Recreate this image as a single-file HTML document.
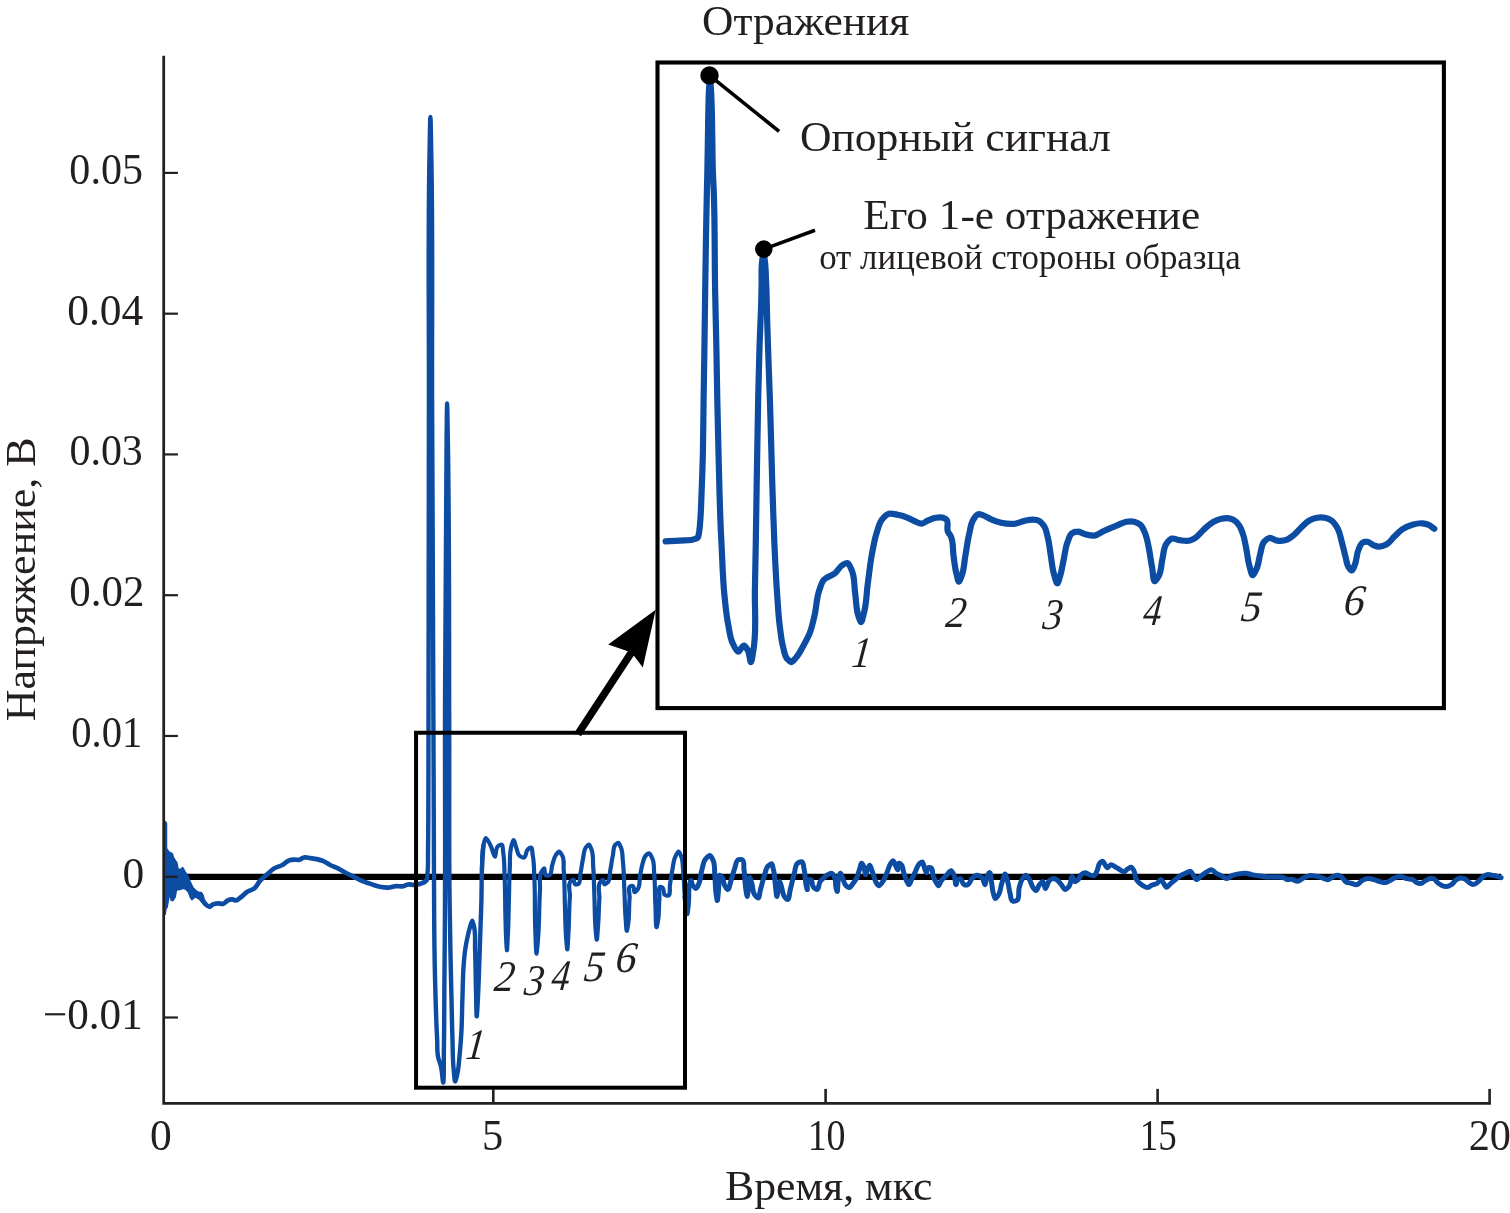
<!DOCTYPE html>
<html lang="ru"><head><meta charset="utf-8"><title>Отражения</title>
<style>
html,body{margin:0;padding:0;background:#fff;}
body{width:1510px;height:1213px;overflow:hidden;}
svg{display:block;}
text{font-family:"Liberation Serif","DejaVu Serif",serif;fill:#231f20;}
.it{font-style:italic;}
</style></head><body>
<svg width="1510" height="1213" viewBox="0 0 1510 1213">
<rect width="1510" height="1213" fill="#fff"/>

<line x1="165" y1="876.95" x2="1501.3" y2="876.95" stroke="#000" stroke-width="6.2"/>
<rect x="657.5" y="62.5" width="786.4" height="645.6" fill="#fff" stroke="#000" stroke-width="4.1"/>
<polygon points="165.2,876 165.2,821.4 166.5,823.1 166.5,848.5 168.9,852 172.3,853.7 173.5,857.7 176.9,862.9 178.1,869.3 181,869.3 182.7,867.6 185,871.6 187.9,876.2 189.6,880.8 193.1,887.8 196.6,891.2 198.9,892.5 201.2,892.4 203.5,898.2 203.5,904 198.9,898.8 194.8,896.5 192,899.8 190,896 188.5,892.4 186.2,889.5 183.3,888.3 179.8,889.5 176.4,890.1 175.2,897 172.9,900.5 171.2,900.5 170,892.4 168.3,900.5 167.1,907.4 166,908.5 165.2,914.3" fill="#0c4ca2" stroke="#0c4ca2" stroke-width="1.5" stroke-linejoin="round"/>
<g fill="none" stroke="#0c4ca2" stroke-linejoin="round" stroke-linecap="round">
<path d="M186.0,877.0C186.4,877.9 186.9,878.8 187.3,879.7C188.8,883.0 189.8,886.6 190.8,890.1C191.4,892.4 191.3,897.4 192.5,897.0C193.1,896.8 193.8,894.4 194.8,894.1C195.6,893.9 196.7,894.6 197.7,894.7C198.7,894.8 199.8,894.4 200.6,894.7C202.3,895.3 201.9,898.7 202.9,900.5C203.7,901.9 204.6,903.4 205.8,904.5C206.9,905.5 208.5,907.0 209.8,906.8C210.8,906.6 211.6,905.1 212.7,904.5C214.2,903.7 216.1,903.4 217.9,903.3C219.6,903.2 221.5,904.3 223.1,903.9C224.8,903.5 226.0,901.3 227.7,900.5C229.1,899.8 230.9,899.2 232.4,899.3C233.5,899.4 234.7,900.5 235.8,900.5C237.5,900.5 239.0,898.6 240.5,897.5C242.7,895.9 244.4,893.7 246.6,892.2C249.0,890.5 252.4,890.1 254.6,888.2C256.8,886.3 257.9,883.1 259.9,880.9C261.9,878.7 264.3,876.9 266.5,875.0C269.1,872.7 271.5,870.0 274.4,868.3C276.9,866.9 279.9,866.4 282.4,865.0C284.7,863.7 286.5,861.2 289.0,860.4C290.6,859.9 292.5,859.8 294.3,859.7C296.1,859.6 297.9,860.1 299.6,859.7C301.2,859.3 302.6,857.7 304.2,857.4C306.1,857.0 308.2,857.8 310.2,858.1C312.4,858.4 314.6,858.6 316.8,859.1C319.0,859.6 321.3,860.2 323.4,861.1C325.8,862.1 327.8,863.8 330.1,865.0C332.6,866.3 335.4,867.0 338.0,868.3C340.8,869.7 343.3,871.5 346.0,873.0C348.6,874.4 351.3,875.6 353.9,876.9C356.6,878.2 359.2,879.8 361.9,880.9C364.5,882.0 367.2,882.7 369.8,883.6C372.4,884.5 375.0,885.6 377.7,886.2C379.9,886.7 382.2,887.1 384.4,887.3C386.2,887.5 388.0,887.7 389.7,887.5C391.5,887.3 393.2,886.5 395.0,886.2C397.6,885.8 400.3,886.7 402.9,886.2C404.7,885.9 406.4,884.7 408.2,884.5C409.9,884.3 411.7,884.9 413.5,884.9C415.3,884.9 417.1,884.6 418.8,884.2C420.6,883.7 422.5,883.2 424.1,882.2C424.9,881.7 425.6,880.9 426.4,880.3" stroke-width="4.7"/>
<path d="M424.1,882.2C424.9,881.6 425.8,881.0 426.4,880.3C427.9,878.5 427.2,875.4 427.5,873.0C428.3,866.4 427.9,859.7 428.0,853.1C428.2,842.1 428.2,831.0 428.3,820.0C428.5,786.7 428.4,753.3 428.5,720.0C428.7,613.3 428.7,506.7 428.9,400.0C429.1,316.7 427.8,233.3 429.6,150.0C429.8,139.0 430.1,117.0 430.4,117.0C430.7,117.0 431.0,139.0 431.2,150.0C433.0,233.3 431.8,316.7 432.1,400.0C432.6,506.7 433.0,613.3 433.4,720.0C433.5,753.3 433.7,786.7 433.8,820.0C433.9,846.7 433.9,873.3 434.1,900.0C434.2,916.5 434.2,933.0 434.5,949.5C434.7,966.0 435.1,982.4 435.6,998.9C436.0,1012.7 436.4,1026.4 437.2,1040.2C437.5,1046.2 436.8,1052.5 438.4,1058.3C438.8,1059.7 439.3,1061.0 439.7,1062.4C440.1,1063.6 440.5,1064.8 440.8,1066.0C442.2,1071.2 442.5,1080.3 443.0,1082.2C444.1,1086.1 443.7,1059.7 443.9,1048.4C444.3,1026.4 444.2,1004.4 444.4,982.4C444.6,954.9 444.9,927.5 445.0,900.0C445.3,840.0 444.9,780.0 445.0,720.0C445.2,626.0 445.3,532.0 446.6,438.0C446.8,426.5 446.9,403.4 447.1,403.4C447.3,403.4 447.6,426.5 447.8,438.0C449.5,532.0 448.9,626.0 449.2,720.0C449.4,780.0 448.8,840.0 449.6,900.0C449.8,916.5 450.1,933.0 450.4,949.5C450.7,966.0 451.1,982.4 451.5,998.9C451.8,1012.7 452.0,1026.4 452.5,1040.2C452.8,1050.1 452.6,1060.0 453.7,1069.8C454.1,1073.7 454.5,1081.9 455.3,1081.4C455.9,1081.0 456.9,1075.9 457.5,1073.1C458.7,1067.7 458.9,1062.1 459.5,1056.6C460.3,1048.4 460.9,1040.1 461.4,1031.9C462.0,1020.9 462.0,1009.9 462.4,998.9C462.8,987.9 462.8,976.9 463.6,966.0C464.0,960.5 464.4,955.0 465.2,949.5C465.9,945.1 466.7,940.7 467.7,936.3C468.4,933.0 469.2,929.6 470.2,926.4C470.8,924.4 471.7,920.6 472.3,920.6C472.9,920.6 473.5,924.5 474.0,926.4C475.8,933.9 474.8,941.8 475.1,949.5C475.6,963.2 475.6,977.0 476.0,990.7C476.2,999.2 476.4,1017.8 476.8,1016.2C477.1,1015.1 477.6,1004.7 477.9,998.9C478.5,987.9 478.8,977.0 479.2,966.0C479.7,952.2 480.1,938.5 480.6,924.7C480.9,916.5 481.2,908.2 481.4,900.0C481.7,890.0 481.5,880.0 481.9,870.0C482.2,861.8 482.9,853.5 483.4,845.3" stroke-width="4.4"/>
<path d="M481.9,870.0C482.4,862.0 481.5,853.8 483.4,846.0C484.0,843.3 484.7,838.4 485.8,838.1C487.1,837.8 489.4,843.2 490.8,846.0C492.5,849.4 493.7,856.8 494.9,856.7C496.1,856.6 495.3,847.9 498.2,846.0C499.1,845.4 500.7,844.6 501.5,844.7C503.4,844.8 502.7,850.0 503.2,852.6C504.6,860.5 504.2,868.6 504.6,876.6C505.2,889.4 505.1,902.2 505.4,915.0C505.6,922.7 505.7,930.3 506.1,938.0C506.3,942.1 506.6,949.9 506.9,950.3C507.2,950.9 507.6,940.1 507.9,935.0C508.5,923.3 508.6,911.7 508.9,900.0C509.2,889.5 509.2,878.9 509.8,868.4C510.2,860.9 509.3,853.1 511.4,846.0C512.0,844.0 512.8,840.5 513.5,840.2C514.4,839.9 515.3,845.2 516.3,847.7C517.4,850.4 517.4,854.2 519.6,855.9C520.7,856.7 522.6,857.7 523.8,857.6C526.2,857.5 525.6,851.2 527.9,849.3C528.7,848.7 530.0,847.8 530.7,847.7C532.7,847.4 532.2,853.1 532.8,855.9C534.2,862.7 533.9,869.7 534.3,876.6C535.3,894.4 534.5,912.2 535.3,930.0C535.6,937.9 536.0,954.5 536.6,953.6C537.1,952.9 537.8,941.2 538.3,935.0C539.4,920.0 539.0,905.0 540.0,890.0C540.4,884.0 538.5,877.1 541.4,872.0C542.1,870.8 543.2,868.7 543.9,868.5C545.1,868.1 544.1,874.9 546.1,875.5C546.8,875.7 548.0,875.7 548.8,875.5C552.0,874.8 551.1,868.5 552.3,865.0C553.4,861.7 553.8,857.9 555.8,855.1C556.7,853.8 558.0,851.6 559.0,851.6C560.0,851.6 561.2,853.8 562.0,855.1C564.7,859.2 563.3,865.2 563.7,870.2C564.7,881.9 564.5,893.7 564.9,905.4C565.3,917.1 565.3,928.8 566.3,940.5C566.6,943.4 566.9,948.3 567.2,949.3C567.7,951.2 568.1,937.6 568.5,931.7C569.2,920.0 569.0,908.3 569.9,896.6C570.3,891.3 567.0,883.3 571.3,880.8C571.9,880.4 572.8,879.9 573.4,879.9C574.6,880.0 573.9,883.8 575.1,884.3C575.8,884.6 577.0,884.5 577.8,884.3C580.9,883.6 579.6,877.3 580.4,873.8C581.5,868.8 581.9,863.7 583.0,858.7C583.9,854.8 583.6,850.2 586.0,847.2C586.8,846.2 588.0,844.6 588.8,844.6C589.9,844.6 590.6,847.5 591.3,849.0C593.7,854.3 592.7,860.8 593.2,866.7C594.0,876.6 594.0,886.6 594.4,896.6C594.9,908.3 594.6,920.1 595.8,931.7C596.1,934.3 596.4,938.9 596.7,939.6C597.2,940.7 597.6,930.8 598.0,926.4C598.8,917.1 598.8,907.7 599.4,898.3C599.8,892.8 596.8,885.4 600.6,881.7C601.3,881.0 602.3,879.9 602.9,879.9C603.9,879.9 603.6,884.1 604.6,884.3C605.4,884.4 606.8,883.2 607.6,882.5C610.6,879.9 609.5,874.3 610.3,870.2C611.3,865.2 611.8,860.1 612.9,855.1C613.7,851.6 613.0,846.9 615.5,844.6C616.3,843.9 617.4,842.8 618.2,842.8C619.4,842.8 620.1,845.7 620.8,847.2C622.8,851.5 622.4,856.7 622.9,861.5C623.9,870.2 623.9,879.0 624.3,887.8C624.8,898.3 624.8,908.9 625.7,919.4C626.0,923.2 626.3,931.4 626.9,930.8C627.3,930.3 627.9,925.5 628.3,922.9C629.5,914.8 628.8,906.5 629.6,898.3C630.0,894.2 627.3,886.5 631.0,886.0C631.5,885.9 632.2,885.9 632.7,886.0C634.6,886.4 633.5,892.4 634.8,892.2C635.5,892.1 636.7,890.5 637.5,889.6C640.4,886.0 639.2,880.2 640.1,875.5C640.9,871.4 641.5,867.2 642.7,863.2C643.5,860.8 643.8,857.8 645.4,856.0C646.3,855.0 647.9,853.4 648.9,853.4C650.4,853.4 651.5,856.8 652.4,858.7C654.5,863.2 653.7,868.8 654.2,873.8C655.2,884.3 654.8,894.9 655.4,905.4C655.8,912.5 655.7,930.1 656.8,926.8C657.2,925.6 657.8,921.9 658.2,919.4C659.3,912.4 658.7,905.3 659.4,898.3C659.8,894.5 657.8,886.0 660.8,886.9C661.3,887.1 662.1,887.4 662.6,887.8C664.5,889.2 662.9,893.6 664.7,894.8C665.5,895.3 667.0,895.7 667.9,895.7C670.9,895.7 669.3,888.1 670.0,884.3C670.9,879.0 671.6,873.7 672.6,868.5C673.4,864.6 673.5,860.4 675.2,856.9C676.1,855.0 677.6,851.5 678.7,851.6C679.7,851.7 680.7,855.1 681.4,856.9C683.0,861.0 682.6,865.8 683.1,870.2C684.0,879.0 684.0,887.8 684.9,896.6C685.5,902.3 686.5,914.5 687.2,913.8C687.7,913.3 688.1,904.6 688.6,900.0" stroke-width="4.2"/>
<path d="M684.9,896.6C685.7,902.3 686.5,914.5 687.2,913.8C687.7,913.3 688.2,904.6 688.6,900.0C689.0,894.7 688.1,889.1 689.6,884.0C689.9,882.8 690.4,880.7 690.8,880.5C691.4,880.1 691.8,884.1 692.9,885.6C693.7,886.7 695.0,888.4 695.9,888.5C697.1,888.6 698.1,885.3 698.9,883.6C701.0,879.4 700.6,874.2 701.9,869.7C703.0,866.0 703.3,861.5 705.8,858.7C706.9,857.4 708.6,855.2 709.8,855.4C711.0,855.6 712.0,858.2 712.8,859.7C715.3,864.3 714.3,870.3 714.8,875.6C715.3,880.9 715.2,886.2 715.8,891.5C716.2,894.5 716.8,900.0 717.2,900.5C717.8,901.2 718.2,891.9 718.7,887.6C719.2,883.6 717.9,874.0 720.3,875.6C720.9,876.0 721.7,876.9 722.3,877.6C724.0,879.7 723.3,883.2 724.7,885.6C725.5,887.0 726.9,889.2 727.7,889.5C729.2,889.9 729.8,884.3 730.7,881.6C732.2,877.4 733.0,872.9 734.6,868.7C735.8,865.6 735.8,860.5 738.6,859.7C739.6,859.4 741.1,859.4 742.0,859.7C744.7,860.5 743.5,866.3 744.0,869.7C744.9,875.6 744.7,881.7 745.6,887.6C746.0,890.6 746.7,896.5 747.2,896.5C747.7,896.5 748.1,890.6 748.5,887.6C749.0,884.3 749.1,876.9 749.9,877.6C750.4,878.0 751.3,881.6 751.9,883.6C753.0,887.2 752.4,891.6 754.5,894.5C755.4,895.8 757.0,897.7 757.9,897.9C759.5,898.3 759.7,892.3 760.5,889.5C761.9,884.9 762.8,880.1 764.4,875.6C765.6,872.2 765.8,868.0 768.4,865.7C769.3,864.9 770.6,863.7 771.4,863.7C772.8,863.7 772.8,867.7 773.4,869.7C774.8,874.8 774.7,880.3 775.4,885.6C775.9,889.2 776.4,896.9 777.0,896.5C777.5,896.2 777.8,890.5 778.4,887.6C778.8,885.6 779.2,881.7 779.7,881.6C780.3,881.5 781.1,885.6 781.7,887.6C782.6,890.5 782.5,894.1 784.3,896.5C785.1,897.6 786.5,899.2 787.3,899.5C789.3,900.3 789.4,892.9 790.3,889.5C791.8,884.2 792.6,878.8 794.2,873.6C795.4,869.9 795.0,864.4 798.2,862.7C799.2,862.2 800.7,861.6 801.6,861.7C803.7,861.9 803.5,867.0 804.2,869.7C805.3,874.2 804.9,879.0 805.8,883.6C806.2,885.6 806.8,889.0 807.2,889.5C807.9,890.3 805.9,880.1 808.8,879.6C809.3,879.5 810.2,879.5 810.7,879.6C812.8,880.1 811.6,884.8 813.1,886.6C814.1,887.8 816.0,889.5 817.1,889.5C818.9,889.6 818.5,883.9 820.1,881.6C821.1,880.1 822.6,878.8 824.0,877.6C825.3,876.5 826.5,875.3 828.0,874.6C829.2,874.0 830.9,873.0 832.0,873.3C833.3,873.7 833.9,876.1 834.6,877.6C835.9,880.6 835.2,884.3 836.0,887.6C836.3,888.8 836.7,890.5 837.0,891.1C837.9,893.0 837.5,883.3 838.4,879.6C838.9,877.5 839.7,873.2 840.5,873.3C841.2,873.4 842.1,876.8 842.9,878.6C843.9,880.9 844.1,883.9 845.9,885.6C846.7,886.4 848.0,887.5 848.9,887.6C850.4,887.7 851.7,885.0 852.9,883.6C854.4,881.8 855.8,879.7 856.8,877.6C858.0,875.1 858.5,872.3 859.4,869.7C860.2,867.6 860.8,862.8 861.8,863.3C862.4,863.6 863.2,865.5 863.8,866.7C864.9,869.1 865.0,875.2 865.8,874.6C866.3,874.2 866.7,871.3 867.4,869.7C868.0,868.2 869.0,865.3 869.7,865.3C870.4,865.3 871.1,868.2 871.7,869.7C872.7,872.3 873.3,875.0 874.3,877.6C875.0,879.6 875.4,881.9 876.7,883.6C877.3,884.3 878.0,885.4 878.7,885.6C880.0,886.0 881.6,883.1 882.7,881.6C884.5,879.3 885.4,876.3 886.6,873.6C888.1,870.4 888.6,866.6 890.6,863.7C891.3,862.7 892.3,860.8 893.0,860.7C894.0,860.5 894.7,864.0 895.6,865.7C896.3,867.0 897.1,869.5 897.6,869.7C898.4,870.0 897.7,863.1 899.2,863.3C899.8,863.4 900.9,864.1 901.5,864.7C903.2,866.3 902.8,869.4 903.5,871.7C904.4,874.7 905.1,877.8 906.5,880.6C907.2,882.0 908.1,884.5 908.9,884.6C909.8,884.7 910.6,881.3 911.5,879.6C912.8,877.0 914.1,874.3 915.4,871.7C916.7,869.0 917.2,865.5 919.4,863.7C920.2,863.1 921.3,862.1 922.0,862.1C923.4,862.0 923.6,865.8 924.4,867.7C925.1,869.4 925.7,872.7 926.4,872.7C927.1,872.7 926.9,868.2 928.4,867.7C929.0,867.5 930.0,867.6 930.7,867.7C933.3,868.3 932.1,873.8 933.3,876.6C934.1,878.7 935.1,880.7 936.3,882.6C936.9,883.6 937.7,885.4 938.3,885.6C939.3,886.0 940.1,882.1 941.3,880.6C942.7,878.8 944.6,877.2 946.2,875.6C947.9,874.0 949.8,870.2 951.2,870.7C952.2,871.0 953.1,873.2 953.8,874.6C955.4,877.6 955.2,885.6 956.2,884.6C956.7,884.1 956.5,880.6 957.8,879.6C958.4,879.1 959.4,878.7 960.1,878.6C962.1,878.4 962.0,883.9 964.0,884.6C965.1,885.0 966.8,885.0 967.9,884.6C969.9,883.9 970.2,880.2 971.9,878.6C973.3,877.2 975.2,875.3 976.9,875.2C978.5,875.1 980.6,876.4 981.9,877.6C983.6,879.2 984.0,884.4 984.8,884.6C985.8,884.9 985.9,878.3 987.4,875.6C988.0,874.6 988.8,873.1 989.4,872.7C990.8,871.7 990.8,878.6 991.4,881.6C992.2,885.5 992.2,889.7 993.4,893.5C994.0,895.2 994.5,898.4 995.4,898.5C996.3,898.6 997.8,895.9 998.7,894.5C1000.7,891.4 1000.5,887.2 1001.7,883.6C1002.8,880.4 1004.2,873.6 1005.3,874.0C1006.2,874.3 1007.0,879.0 1007.7,881.6C1008.8,885.5 1009.0,889.6 1010.1,893.5C1010.8,896.1 1010.6,900.5 1012.7,901.1C1013.7,901.4 1015.5,901.0 1016.6,900.5C1020.1,899.0 1017.9,891.8 1019.2,887.6C1020.1,884.5 1020.8,881.2 1022.6,878.6C1023.5,877.4 1024.6,875.3 1025.6,875.2C1026.9,875.0 1028.4,878.0 1029.5,879.6C1031.1,882.0 1031.3,885.3 1033.1,887.6C1033.9,888.6 1035.1,890.3 1035.9,890.5C1037.4,890.8 1038.0,886.4 1039.5,884.6C1040.4,883.5 1041.7,881.8 1042.5,881.6C1044.0,881.3 1044.4,888.3 1045.4,888.5C1046.6,888.8 1047.3,882.5 1049.4,880.6C1050.3,879.8 1051.3,878.8 1052.4,878.6C1053.6,878.3 1055.2,879.0 1056.4,879.6C1058.4,880.6 1059.7,882.9 1061.3,884.6C1062.7,886.2 1063.8,889.6 1065.3,889.5C1066.4,889.4 1067.9,887.7 1068.9,886.6C1071.2,884.0 1070.8,875.8 1072.3,876.6C1073.1,877.0 1073.8,881.6 1075.2,881.6C1076.0,881.6 1077.3,880.4 1078.2,879.6C1079.6,878.3 1079.8,875.8 1081.2,874.6C1082.3,873.7 1083.9,872.7 1085.2,872.7C1086.5,872.7 1087.7,874.1 1089.1,874.6C1090.7,875.2 1092.8,876.1 1094.1,875.6C1095.6,875.0 1096.2,872.4 1097.1,870.7C1098.4,868.2 1098.0,864.4 1100.1,862.7C1100.8,862.1 1102.0,861.2 1102.7,861.3C1103.7,861.4 1104.2,863.6 1105.0,864.7C1105.8,865.7 1106.5,867.5 1107.4,867.7C1108.5,867.9 1109.7,864.8 1111.0,864.7C1112.2,864.6 1113.7,866.0 1115.0,866.7C1116.7,867.6 1118.2,868.8 1119.9,869.7C1121.2,870.4 1122.6,871.8 1123.9,871.7C1125.3,871.6 1126.4,869.5 1127.9,868.7C1129.0,868.1 1130.3,867.1 1131.3,867.3C1132.4,867.5 1133.2,869.5 1133.9,870.7C1135.2,873.0 1134.6,876.3 1135.8,878.6C1136.6,880.0 1137.6,881.4 1138.8,882.6C1140.0,883.8 1141.4,884.8 1142.8,885.6C1144.3,886.5 1146.2,887.8 1147.8,887.6C1149.2,887.4 1150.3,885.8 1151.7,885.2C1153.3,884.5 1155.2,884.4 1156.7,883.6C1158.4,882.7 1159.8,879.3 1161.1,879.6C1162.1,879.9 1162.8,882.3 1163.7,883.6C1164.6,884.8 1165.6,887.0 1166.6,887.2C1167.8,887.4 1169.2,884.8 1170.6,883.6C1172.2,882.2 1173.9,880.9 1175.6,879.6C1177.2,878.3 1178.7,876.7 1180.5,875.6C1182.1,874.7 1183.8,874.0 1185.5,873.3C1187.1,872.6 1189.2,870.9 1190.5,871.3C1191.8,871.7 1192.5,874.2 1193.5,875.6C1194.5,876.9 1195.3,879.4 1196.4,879.6C1197.6,879.8 1199.1,877.6 1200.4,876.6C1202.4,875.1 1204.3,873.4 1206.4,872.1C1208.0,871.2 1209.8,869.6 1211.3,869.7C1213.0,869.8 1214.3,872.2 1216.0,873.2C1217.9,874.3 1220.0,875.0 1221.9,876.0C1223.6,876.8 1225.3,878.6 1226.9,878.6C1228.6,878.6 1230.1,876.4 1231.9,875.6C1234.4,874.5 1237.1,874.0 1239.8,873.6C1241.8,873.3 1243.8,873.0 1245.8,873.2C1247.8,873.4 1249.7,874.2 1251.7,874.6C1253.7,875.0 1255.7,875.3 1257.7,875.6C1261.0,876.1 1264.3,876.8 1267.6,877.0C1270.9,877.2 1274.3,876.8 1277.6,877.0C1279.6,877.1 1281.6,877.0 1283.5,877.6C1284.9,878.0 1286.1,879.4 1287.5,879.6C1288.8,879.8 1290.2,879.1 1291.5,879.2C1293.5,879.3 1295.5,881.3 1297.4,881.2C1299.5,881.1 1301.3,879.0 1303.4,878.0C1305.3,877.1 1307.3,875.9 1309.3,875.6C1311.2,875.3 1313.3,875.7 1315.3,876.0C1317.3,876.3 1319.3,877.0 1321.3,877.6C1323.6,878.2 1326.0,880.0 1328.2,879.6C1330.0,879.3 1331.4,877.3 1333.2,876.6C1334.8,875.9 1336.6,874.9 1338.2,875.2C1339.6,875.4 1340.9,876.7 1342.1,877.6C1343.6,878.8 1344.4,881.1 1346.1,882.0C1347.5,882.8 1349.4,882.8 1351.1,883.2C1353.1,883.7 1355.2,885.0 1357.0,884.6C1358.9,884.2 1360.2,881.6 1362.0,880.6C1363.8,879.6 1366.0,878.7 1368.0,878.6C1369.9,878.5 1372.0,879.1 1373.9,879.6C1375.9,880.1 1377.9,881.1 1379.9,881.6C1381.8,882.1 1383.9,882.8 1385.8,882.6C1387.9,882.3 1389.8,880.6 1391.8,879.6C1393.8,878.6 1395.7,877.0 1397.8,876.6C1399.0,876.4 1400.4,876.4 1401.7,876.6C1403.4,876.9 1405.0,878.1 1406.7,878.6C1408.6,879.2 1410.9,878.8 1412.7,879.6C1414.1,880.3 1415.1,881.9 1416.6,882.6C1417.8,883.2 1419.3,883.7 1420.6,883.6C1422.4,883.5 1423.9,881.5 1425.6,880.6C1427.2,879.8 1428.8,878.8 1430.5,878.6C1431.5,878.5 1432.6,878.4 1433.5,878.6C1435.2,879.1 1436.0,881.4 1437.5,882.6C1438.7,883.6 1440.1,884.5 1441.5,885.2C1443.0,885.9 1444.8,886.7 1446.4,886.6C1448.1,886.5 1449.9,885.5 1451.4,884.6C1453.4,883.4 1454.4,880.8 1456.4,879.6C1457.6,878.9 1459.0,878.2 1460.3,878.0C1461.6,877.9 1463.1,878.2 1464.3,878.6C1466.2,879.3 1467.5,881.5 1469.3,882.6C1470.6,883.4 1472.0,884.6 1473.3,884.6C1475.0,884.6 1476.7,882.8 1478.2,881.6C1480.1,880.2 1481.3,877.9 1483.2,876.6C1484.4,875.8 1485.8,874.9 1487.2,874.6C1488.7,874.3 1490.5,874.9 1492.1,875.2C1494.1,875.5 1496.1,876.0 1498.1,876.6C1499.1,876.9 1500.1,877.3 1501.1,877.6" stroke-width="5.0"/>
</g>
<rect x="416.05" y="732.75" width="268.95" height="354.95" fill="none" stroke="#000" stroke-width="4"/>
<path d="M665.6,541.3C670.4,541.1 675.2,541.0 680.0,540.6C685.2,540.2 690.9,541.0 695.6,538.8C696.3,538.4 697.3,538.2 697.8,537.6C698.6,536.8 698.5,535.2 698.8,534.0C699.0,533.0 699.1,532.0 699.3,531.0C699.9,527.0 700.1,522.9 700.4,518.8C701.1,510.0 701.2,501.2 701.6,492.4C702.1,479.2 702.6,466.0 702.9,452.8C703.3,435.2 703.3,417.6 703.6,400.0C703.8,383.0 704.2,366.0 704.4,349.0C704.7,329.3 704.9,309.7 705.2,290.0C705.7,256.7 706.1,223.3 706.9,190.0C707.1,183.0 707.3,176.0 707.4,169.0C707.6,159.0 707.7,149.0 707.9,139.0C708.1,129.3 708.1,119.7 708.4,110.0C708.6,101.7 708.6,93.3 709.3,85.0C709.5,82.8 709.7,78.5 709.9,78.5C710.1,78.5 710.4,82.8 710.6,85.0C711.4,93.3 711.5,101.7 711.8,110.0C712.1,119.7 712.1,129.3 712.3,139.0C712.5,149.0 712.5,159.0 712.8,169.0C713.0,176.0 713.4,183.0 713.7,190.0C715.0,223.3 714.5,256.7 715.1,290.0C715.5,309.7 716.0,329.3 716.4,349.0C716.7,366.0 717.0,383.0 717.3,400.0C717.7,417.6 718.1,435.2 718.5,452.8C718.8,466.0 719.1,479.2 719.5,492.4C719.9,505.6 720.3,518.8 720.9,532.0C721.1,535.9 721.3,539.7 721.5,543.6C722.4,561.4 722.7,579.2 724.6,596.9C725.6,606.3 726.4,615.8 728.3,625.1C729.6,631.4 730.0,638.3 733.0,643.9C734.4,646.6 736.3,651.7 738.3,651.7C740.0,651.7 742.2,645.1 744.0,645.5C745.3,645.8 746.7,648.4 747.7,650.1C749.8,653.6 749.9,662.2 750.9,662.1C751.8,662.0 752.7,654.1 753.4,650.1C756.8,630.6 754.5,610.4 754.9,590.6C755.6,559.3 756.0,527.9 756.5,496.6C757.0,465.3 757.4,434.0 758.1,402.7C758.5,386.8 758.8,370.9 759.3,355.0C759.5,348.0 759.7,341.0 760.0,334.0C760.3,325.7 760.7,317.3 761.0,309.0C761.3,300.8 761.4,292.7 761.6,284.5C761.8,276.3 761.0,268.0 762.3,260.0C762.7,257.8 763.2,253.5 763.6,253.5C764.0,253.5 764.4,257.8 764.7,260.0C765.9,268.1 765.8,276.3 766.2,284.5C766.6,292.7 766.7,300.8 766.9,309.0C767.1,317.3 767.3,325.7 767.6,334.0C767.8,341.0 768.1,348.0 768.3,355.0C768.8,370.9 769.5,386.8 770.0,402.7C770.9,428.8 771.4,454.9 772.2,481.0C772.9,501.9 773.5,522.7 774.4,543.6C775.1,559.3 775.8,575.0 776.9,590.6C777.8,603.1 778.3,615.7 780.0,628.2C780.9,634.5 781.4,640.9 783.1,647.0C784.2,651.0 784.5,655.8 787.2,658.9C788.3,660.1 789.7,662.0 791.0,662.1C792.6,662.2 794.3,659.5 795.7,658.0C799.1,654.5 801.1,649.8 803.5,645.5C805.8,641.4 808.1,637.2 809.8,632.9C812.0,627.4 813.1,621.5 814.5,615.7C816.5,607.4 816.4,598.6 819.2,590.6C820.5,586.9 821.4,582.5 823.9,579.7C826.5,576.7 831.6,576.0 834.8,573.4C837.8,571.0 839.4,566.7 842.7,564.9C844.1,564.1 846.1,562.8 847.4,563.1C849.1,563.4 850.0,566.8 851.1,568.7C855.1,576.0 853.9,585.4 855.2,593.8C856.3,601.1 856.0,608.7 858.3,615.7C859.0,617.8 860.0,621.6 860.8,622.0C862.0,622.6 863.1,615.8 864.0,612.6C866.6,603.5 866.4,593.8 867.7,584.4C869.2,573.4 870.2,562.4 872.4,551.5C873.7,544.9 874.8,538.1 877.0,531.7C878.4,527.6 879.3,523.0 881.9,519.7C883.7,517.4 886.2,514.6 888.9,513.8C891.5,513.0 894.9,514.2 897.8,514.8C901.2,515.5 904.6,516.5 907.8,517.8C910.5,518.9 913.0,520.6 915.7,521.7C917.5,522.5 919.5,523.7 921.3,523.7C923.4,523.7 925.5,521.6 927.6,520.7C930.2,519.6 932.8,518.3 935.6,517.8C938.2,517.4 941.1,516.8 943.5,517.8C944.6,518.2 945.7,518.9 946.5,519.7C949.2,522.3 946.2,528.2 947.9,531.7C948.6,533.1 949.8,534.3 950.5,535.6C953.7,541.4 952.5,548.9 953.5,555.5C954.4,561.5 954.8,567.6 956.4,573.4C957.1,576.2 958.0,581.9 959.0,581.6C959.8,581.4 961.0,577.5 961.8,575.4C964.2,569.1 964.2,562.1 965.4,555.5C966.7,548.2 967.5,540.8 969.3,533.6C970.4,528.9 970.7,523.6 973.3,519.7C974.6,517.7 976.2,514.6 978.3,514.2C979.8,513.9 981.7,514.9 983.3,515.4C986.1,516.3 988.5,518.2 991.2,519.3C994.4,520.7 997.7,521.9 1001.1,522.7C1005.6,523.7 1010.5,524.3 1015.0,523.7C1018.4,523.2 1021.6,521.4 1025.0,520.7C1027.6,520.2 1030.3,519.6 1032.9,519.7C1034.9,519.8 1037.2,519.9 1038.9,520.7C1040.9,521.7 1042.6,523.8 1043.9,525.7C1046.3,529.0 1046.7,533.6 1047.8,537.6C1049.3,543.4 1049.8,549.5 1050.8,555.5C1051.8,561.5 1052.1,567.6 1053.8,573.4C1054.8,576.8 1056.4,584.2 1057.6,583.3C1058.3,582.8 1059.1,579.4 1059.7,577.4C1061.6,571.6 1062.4,565.5 1063.7,559.5C1065.0,553.5 1065.4,547.2 1067.7,541.6C1068.8,538.9 1069.5,535.2 1071.7,533.6C1073.2,532.5 1075.6,531.7 1077.6,531.7C1079.9,531.6 1082.2,533.4 1084.6,534.0C1087.8,534.8 1091.3,536.0 1094.5,535.6C1098.0,535.1 1101.1,532.2 1104.4,530.7C1108.3,528.9 1112.4,527.3 1116.4,525.7C1119.7,524.4 1122.9,522.3 1126.3,521.7C1128.9,521.3 1131.7,521.1 1134.2,521.7C1136.3,522.2 1138.6,523.3 1140.2,524.7C1142.7,526.8 1143.9,530.5 1145.2,533.6C1147.3,538.6 1148.0,544.2 1149.1,549.5C1150.3,555.4 1150.9,561.5 1152.1,567.4C1153.0,572.0 1152.9,582.3 1155.1,581.0C1156.0,580.5 1157.5,578.0 1158.5,576.4C1161.6,571.2 1161.0,564.4 1162.5,558.5C1163.7,553.5 1163.5,547.6 1166.5,543.6C1167.9,541.7 1169.8,539.2 1171.9,538.6C1174.2,537.9 1177.1,539.9 1179.8,540.2C1183.1,540.6 1186.6,541.4 1189.7,540.6C1191.8,540.0 1193.9,538.8 1195.7,537.6C1198.8,535.6 1200.8,532.2 1203.6,529.7C1206.8,526.8 1209.9,523.7 1213.6,521.7C1216.1,520.4 1218.8,519.3 1221.5,518.7C1223.4,518.3 1225.5,517.9 1227.5,518.1C1229.5,518.3 1231.7,518.8 1233.4,519.7C1235.8,521.0 1237.8,523.4 1239.4,525.7C1241.4,528.6 1242.3,532.2 1243.4,535.6C1244.8,540.1 1245.5,544.9 1246.4,549.5C1247.5,554.8 1247.8,560.3 1249.3,565.4C1250.3,568.7 1251.4,575.6 1252.9,575.1C1253.9,574.8 1255.3,571.4 1256.3,569.4C1258.7,564.5 1258.8,558.7 1260.3,553.5C1261.5,549.5 1261.5,544.5 1264.2,541.6C1265.5,540.2 1267.4,538.4 1269.2,538.0C1271.6,537.4 1274.5,540.3 1277.2,540.6C1280.4,541.0 1284.1,540.8 1287.1,539.6C1289.3,538.7 1291.2,537.1 1293.1,535.6C1296.0,533.3 1298.3,530.2 1301.0,527.7C1303.6,525.3 1305.9,522.4 1308.9,520.7C1311.3,519.3 1314.1,518.3 1316.9,517.8C1319.5,517.4 1322.3,517.3 1324.8,517.8C1327.2,518.3 1329.8,519.3 1331.8,520.7C1334.4,522.6 1336.2,525.8 1337.8,528.7C1339.9,532.6 1340.5,537.3 1341.7,541.6C1343.2,546.9 1344.2,552.2 1345.7,557.5C1346.6,560.8 1346.7,564.7 1348.7,567.4C1349.5,568.5 1350.8,570.4 1351.7,570.5C1352.9,570.6 1353.8,567.2 1354.6,565.4C1356.9,560.5 1356.3,554.4 1358.6,549.5C1359.7,547.1 1360.4,543.8 1362.6,542.6C1363.7,542.0 1365.3,541.6 1366.6,541.6C1369.4,541.5 1371.7,544.7 1374.5,545.6C1375.8,546.0 1377.2,546.5 1378.5,546.6C1381.1,546.8 1384.1,545.8 1386.4,544.6C1389.6,542.9 1391.7,539.2 1394.4,536.6C1397.0,534.1 1399.4,531.3 1402.3,529.3C1405.3,527.3 1408.8,525.7 1412.3,524.7C1415.5,523.8 1418.9,523.0 1422.2,523.3C1424.2,523.5 1426.3,523.9 1428.2,524.7C1430.4,525.6 1432.3,527.4 1434.3,528.8" fill="none" stroke="#0c4ca2" stroke-width="6.2" stroke-linejoin="round" stroke-linecap="round"/>
<g stroke="#231f20" fill="none">
<path d="M163.7,55.7 V1103.4 H1490.9" stroke-width="2.75"/>
<line x1="163.7" y1="172.9" x2="177.9" y2="172.9" stroke-width="2.2"/>
<line x1="163.7" y1="313.67" x2="177.9" y2="313.67" stroke-width="2.2"/>
<line x1="163.7" y1="454.43" x2="177.9" y2="454.43" stroke-width="2.2"/>
<line x1="163.7" y1="595.2" x2="177.9" y2="595.2" stroke-width="2.2"/>
<line x1="163.7" y1="735.97" x2="177.9" y2="735.97" stroke-width="2.2"/>
<line x1="163.7" y1="876.73" x2="177.9" y2="876.73" stroke-width="2.2"/>
<line x1="163.7" y1="1017.5" x2="177.9" y2="1017.5" stroke-width="2.2"/>
<line x1="493.3" y1="1103.4" x2="493.3" y2="1088.9" stroke-width="2.6"/>
<line x1="825.6" y1="1103.4" x2="825.6" y2="1088.9" stroke-width="2.6"/>
<line x1="1157.6" y1="1103.4" x2="1157.6" y2="1088.9" stroke-width="2.6"/>
<line x1="1489.6" y1="1103.4" x2="1489.6" y2="1088.9" stroke-width="2.6"/>
</g>
<line x1="577.8" y1="734.2" x2="632.2" y2="651.2" stroke="#000" stroke-width="7.5"/>
<polygon points="655.7,609.8 608.2,644.6 631.5,652.5 642.8,667.4" fill="#000"/>
<line x1="709.5" y1="75.4" x2="779.1" y2="131.4" stroke="#000" stroke-width="3.6"/>
<circle cx="709.5" cy="75.4" r="9.2" fill="#000"/>
<line x1="763.8" y1="249.1" x2="815.0" y2="230.2" stroke="#000" stroke-width="3.6"/>
<circle cx="763.8" cy="249.1" r="8.8" fill="#000"/>
<text id="y0.05" x="69.37" y="183.9" font-size="43.7" textLength="73.61" lengthAdjust="spacingAndGlyphs">0.05</text>
<text id="y0.04" x="67.20" y="324.8" font-size="43.7" textLength="75.99" lengthAdjust="spacingAndGlyphs">0.04</text>
<text id="y0.03" x="69.41" y="465.3" font-size="43.7" textLength="73.43" lengthAdjust="spacingAndGlyphs">0.03</text>
<text id="y0.02" x="69.29" y="606.0" font-size="43.7" textLength="75.06" lengthAdjust="spacingAndGlyphs">0.02</text>
<text id="y0.01" x="71.30" y="746.9" font-size="43.7" textLength="71.14" lengthAdjust="spacingAndGlyphs">0.01</text>
<text id="y0" x="122.45" y="887.9" font-size="43.7" textLength="21.74" lengthAdjust="spacingAndGlyphs">0</text>
<text id="ym" x="42.93" y="1028.5" font-size="43.7" textLength="99.85" lengthAdjust="spacingAndGlyphs">−0.01</text>
<text id="x0" x="150.12" y="1150.3" font-size="43.7" textLength="21.78" lengthAdjust="spacingAndGlyphs">0</text>
<text id="x5" x="482.09" y="1150.3" font-size="43.7" textLength="21.20" lengthAdjust="spacingAndGlyphs">5</text>
<text id="x10" x="807.65" y="1150.0" font-size="43.7" textLength="37.95" lengthAdjust="spacingAndGlyphs">10</text>
<text id="x15" x="1139.66" y="1149.9" font-size="43.7" textLength="36.98" lengthAdjust="spacingAndGlyphs">15</text>
<text id="x20" x="1468.73" y="1149.9" font-size="43.7" textLength="42.29" lengthAdjust="spacingAndGlyphs">20</text>
<text id="xl" x="725.00" y="1200.3" font-size="42.2" textLength="207.36" lengthAdjust="spacingAndGlyphs">Время, мкс</text>
<text id="title" x="702.02" y="34.9" font-size="42.2" textLength="207.30" lengthAdjust="spacingAndGlyphs">Отражения</text>
<text id="opor" x="799.93" y="150.7" font-size="42.2" textLength="310.88" lengthAdjust="spacingAndGlyphs">Опорный сигнал</text>
<text id="ego" x="863.27" y="228.8" font-size="42.2" textLength="336.90" lengthAdjust="spacingAndGlyphs">Его 1-е отражение</text>
<text id="ot" x="819.14" y="268.8" font-size="35.5" textLength="421.63" lengthAdjust="spacingAndGlyphs">от лицевой стороны образца</text>
<text id="m1" x="464.76" y="1058.8" font-size="43.7" class="it" transform="translate(464.76,1058.8) skewX(-6) translate(-464.76,-1058.8)" textLength="19.24" lengthAdjust="spacingAndGlyphs">1</text>
<text id="m2" x="493.20" y="990.7" font-size="43.7" class="it" transform="translate(493.20,990.7) skewX(-6) translate(-493.20,-990.7)" textLength="20.32" lengthAdjust="spacingAndGlyphs">2</text>
<text id="m3" x="523.19" y="994.8" font-size="43.7" class="it" transform="translate(523.19,994.8) skewX(-6) translate(-523.19,-994.8)" textLength="19.92" lengthAdjust="spacingAndGlyphs">3</text>
<text id="m4" x="550.55" y="989.7" font-size="43.7" class="it" transform="translate(550.55,989.7) skewX(-6) translate(-550.55,-989.7)" textLength="18.29" lengthAdjust="spacingAndGlyphs">4</text>
<text id="m5" x="583.01" y="980.9" font-size="43.7" class="it" transform="translate(583.01,980.9) skewX(-6) translate(-583.01,-980.9)" textLength="20.68" lengthAdjust="spacingAndGlyphs">5</text>
<text id="m6" x="614.43" y="971.8" font-size="43.7" class="it" transform="translate(614.43,971.8) skewX(-6) translate(-614.43,-971.8)" textLength="21.14" lengthAdjust="spacingAndGlyphs">6</text>
<text id="i1" x="850.66" y="666.8" font-size="43.7" class="it" transform="translate(850.66,666.8) skewX(-6) translate(-850.66,-666.8)" textLength="19.24" lengthAdjust="spacingAndGlyphs">1</text>
<text id="i2" x="944.80" y="627.2" font-size="43.7" class="it" transform="translate(944.80,627.2) skewX(-6) translate(-944.80,-627.2)" textLength="20.32" lengthAdjust="spacingAndGlyphs">2</text>
<text id="i3" x="1041.69" y="628.6" font-size="43.7" class="it" transform="translate(1041.69,628.6) skewX(-6) translate(-1041.69,-628.6)" textLength="19.92" lengthAdjust="spacingAndGlyphs">3</text>
<text id="i4" x="1142.35" y="625.0" font-size="43.7" class="it" transform="translate(1142.35,625.0) skewX(-6) translate(-1142.35,-625.0)" textLength="18.29" lengthAdjust="spacingAndGlyphs">4</text>
<text id="i5" x="1240.11" y="620.7" font-size="43.7" class="it" transform="translate(1240.11,620.7) skewX(-6) translate(-1240.11,-620.7)" textLength="20.68" lengthAdjust="spacingAndGlyphs">5</text>
<text id="i6" x="1342.83" y="615.1" font-size="43.7" class="it" transform="translate(1342.83,615.1) skewX(-6) translate(-1342.83,-615.1)" textLength="21.14" lengthAdjust="spacingAndGlyphs">6</text>
<text id="yl" transform="translate(35.0,721.22) rotate(-90)" font-size="42.2" textLength="283.85" lengthAdjust="spacingAndGlyphs">Напряжение, В</text>
</svg></body></html>
